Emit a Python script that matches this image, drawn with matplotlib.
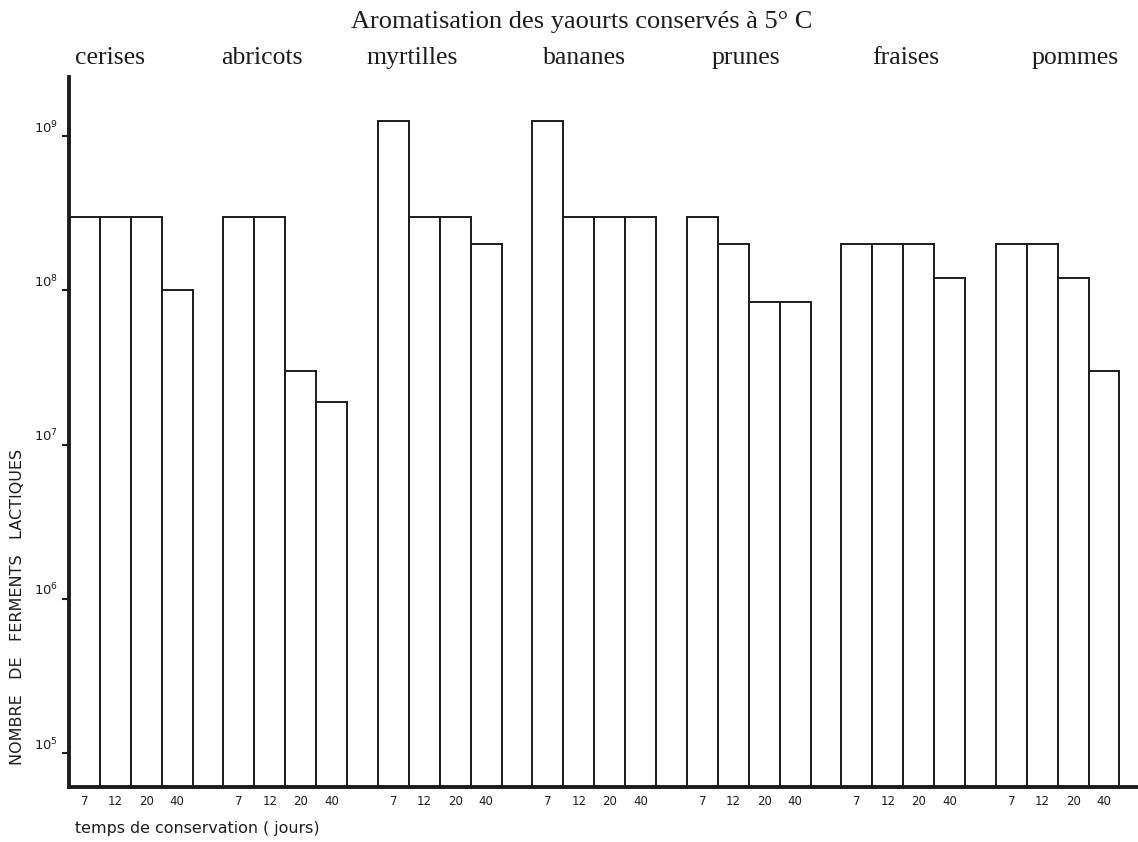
import matplotlib
matplotlib.use("Agg")
import matplotlib.pyplot as plt
import numpy as np

# ---- data ----
flavours = ["cerises", "abricots", "myrtilles", "bananes", "prunes", "fraises", "pommes"]
days = ["7", "12", "20", "40"]
cerises = [3e8, 3e8, 3e8, 1e8]
abricots = [3e8, 3e8, 3e7, 1.9e7]
myrtilles = [1.25e9, 3e8, 3e8, 2e8]
bananes = [1.25e9, 3e8, 3e8, 3e8]
prunes = [3e8, 2e8, 8.4e7, 8.4e7]
fraises = [2e8, 2e8, 2e8, 1.2e8]
pommes = [2e8, 2e8, 1.2e8, 3e7]
ytick_exps = [5, 6, 7, 8, 9]

title = "Aromatisation des yaourts conservés à 5° C"
ylabel = "NOMBRE   DE   FERMENTS   LACTIQUES"
xlabel = "temps de conservation ( jours)"

series = [cerises, abricots, myrtilles, bananes, prunes, fraises, pommes]

W, H = 1138, 842
fig = plt.figure(figsize=(W / 100, H / 100), dpi=100)
fig.patch.set_facecolor("white")
ax = fig.add_axes([69 / W, 55 / H, 1 - 69 / W, (787 - 77) / H])

ymin, ymax = 10 ** 4.78, 10 ** 9.3825
ax.set_yscale("log")
ax.set_ylim(ymin, ymax)
ax.set_xlim(0, 34.6)

ink = "#1c1c1c"
centers, tlabels = [], []
for g, vals in enumerate(series):
    x = g * 5 + np.arange(len(vals))
    ax.bar(x, np.array(vals) - ymin, bottom=ymin, width=1.0, align="edge",
           facecolor="white", edgecolor=ink, linewidth=1.4, zorder=2)
    centers.extend(list(x + 0.5))
    tlabels.extend(days)

ax.set_xticks(centers)
ax.set_xticklabels(tlabels, fontsize=8.5, family="DejaVu Sans", color=ink)
ax.tick_params(axis="x", length=0, pad=6)

ax.set_yticks([10.0 ** e for e in ytick_exps])
ax.set_yticklabels([f"$10^{{{e}}}$" for e in ytick_exps], fontsize=9.5, color=ink)
ax.yaxis.set_minor_locator(matplotlib.ticker.NullLocator())
ax.tick_params(axis="y", length=5, width=1.5, pad=3, color=ink)
for lbl in ax.get_yticklabels():
    lbl.set_va("bottom")

for s in ["top", "right"]:
    ax.spines[s].set_visible(False)
for s in ["left", "bottom"]:
    ax.spines[s].set_linewidth(2.8)
    ax.spines[s].set_color(ink)
    ax.spines[s].set_zorder(3)

# labels
fig.text(582 / W, 1 - 22 / H, title, ha="center", va="center",
         family="Liberation Serif", fontsize=19, color=ink)
label_px = [110, 262, 412, 584, 746, 906, 1075]
for name, px in zip(flavours, label_px):
    fig.text(px / W, 1 - 58 / H, name, ha="center", va="center",
             family="Liberation Serif", fontsize=18.5, color=ink)

fig.text(18 / W, 1 - 607 / H, ylabel, rotation=90, ha="center", va="center",
         family="DejaVu Sans", fontsize=11.5, color=ink)
fig.text(75 / W, 1 - 828 / H, xlabel, ha="left", va="center",
         family="DejaVu Sans", fontsize=11.4, color=ink)

fig.savefig("out.png", dpi=100, facecolor="white")
